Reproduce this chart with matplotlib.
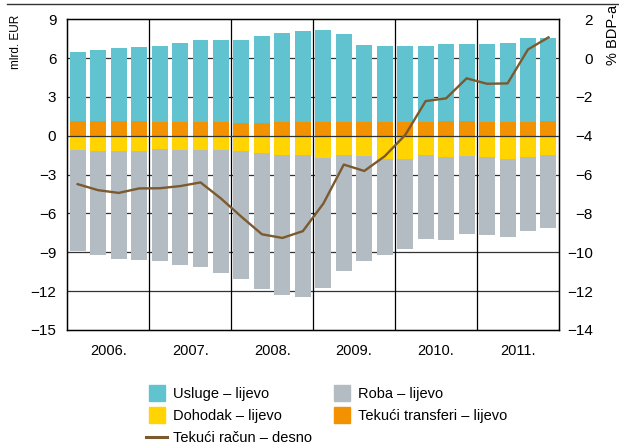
import numpy as np
import matplotlib
matplotlib.use("Agg")
import matplotlib.pyplot as plt
from matplotlib.lines import Line2D

plt.rcParams['font.family'] = ['Liberation Sans Narrow', 'Liberation Sans', 'DejaVu Sans']

# Quarterly data 2006-2011 (mlrd. EUR, left axis)
years = ['2006.', '2007.', '2008.', '2009.', '2010.', '2011.']
usluge = [5.33, 5.49, 5.64, 5.77, 5.88, 6.16, 6.37, 6.39, 6.40, 6.68, 6.88, 7.04,
          7.12, 6.76, 5.95, 5.88, 5.88, 5.88, 5.95, 5.98, 5.98, 6.11, 6.45, 6.39]
transferi = [1.16, 1.16, 1.16, 1.11, 1.08, 1.03, 1.03, 1.03, 1.00, 1.00, 1.06, 1.08,
             1.08, 1.08, 1.03, 1.03, 1.08, 1.08, 1.11, 1.11, 1.08, 1.08, 1.08, 1.16]
dohodak = [-1.11, -1.19, -1.19, -1.19, -1.00, -1.08, -1.08, -1.08, -1.16, -1.34, -1.47, -1.52,
           -1.68, -1.49, -1.55, -1.78, -1.80, -1.49, -1.65, -1.55, -1.62, -1.80, -1.65, -1.52]
roba = [-7.81, -8.04, -8.35, -8.38, -8.70, -8.90, -9.06, -9.49, -9.90, -10.50, -10.83, -10.91,
        -10.05, -8.93, -8.10, -7.45, -6.94, -6.48, -6.37, -6.01, -6.07, -6.02, -5.68, -5.60]
# current account, % BDP-a (right axis)
tekuci_racun = [-6.49, -6.80, -6.94, -6.71, -6.70, -6.59, -6.40, -7.23, -8.17, -9.07, -9.26, -8.91,
                -7.49, -5.48, -5.81, -5.05, -3.96, -2.21, -2.07, -1.04, -1.32, -1.30, 0.45, 1.07]

c_usluge = '#62C3D0'
c_roba = '#B4BCC3'
c_dohodak = '#FFD400'
c_transferi = '#F39200'
c_line = '#7A5A2E'

fig = plt.figure(figsize=(6.19, 4.48), dpi=100)
ax = fig.add_axes([0.109, 0.2634, 0.7936, 0.6935])

x = np.arange(len(usluge))
w = 0.78
ax.bar(x, transferi, w, color=c_transferi, zorder=2)
ax.bar(x, usluge, w, bottom=transferi, color=c_usluge, zorder=2)
ax.bar(x, dohodak, w, color=c_dohodak, zorder=2)
ax.bar(x, roba, w, bottom=dohodak, color=c_roba, zorder=2)

ax.set_xlim(-0.5, len(x) - 0.5)
ax.set_ylim(-15, 9)
ax.set_yticks(np.arange(-15, 10, 3))
for yv in np.arange(-12, 9, 3):
    ax.axhline(yv, color='#333333', lw=0.9, zorder=0 if yv != 0 else 3)
for xv in np.arange(3.5, len(x) - 1, 4):
    ax.axvline(xv, color='black', lw=0.9, zorder=0)

ax.set_xticks(np.arange(1.5, len(x), 4))
ax.set_xticklabels(years)
ax.tick_params(axis='x', length=0, pad=10, labelsize=10.5)
ax.tick_params(axis='y', length=0, pad=8, labelsize=11)
for s in ax.spines.values():
    s.set_linewidth(1.0)

ax2 = ax.twinx()
ax2.plot(x, tekuci_racun, color=c_line, lw=1.7, zorder=4)
ax2.set_ylim(-14, 2)
ax2.set_yticks(np.arange(-14, 3, 2))
ax2.tick_params(axis='y', length=0, pad=24.5, labelsize=11)
for lab in ax2.get_yticklabels():
    lab.set_horizontalalignment('right')

# axis titles
fig.text(16 / 619, 1 - 15 / 448, 'mlrd. EUR', rotation=90, ha='center', va='top', fontsize=8.5)
fig.text(613 / 619, 1 - 5 / 448, '% BDP-a', rotation=90, ha='center', va='top', fontsize=10.5)

# thin rule across the top
fig.add_artist(Line2D([7 / 619, 1], [1 - 4.5 / 448, 1 - 4.5 / 448], color='#333333', lw=1.0))

# legend
sq = dict(marker='s', linestyle='none', markersize=11.5)
handles = [Line2D([], [], color=c_usluge, **sq),
           Line2D([], [], color=c_dohodak, **sq),
           Line2D([], [], color=c_line, lw=2.2),
           Line2D([], [], color=c_roba, **sq),
           Line2D([], [], color=c_transferi, **sq)]
labels = ['Usluge – lijevo', 'Dohodak – lijevo', 'Tekući račun – desno',
          'Roba – lijevo', 'Tekući transferi – lijevo']
fig.legend(handles, labels, ncol=2, loc='upper left', bbox_to_anchor=(146 / 619, 1 - 387 / 448),
           frameon=False, fontsize=10.5, handlelength=1.45, handletextpad=0.4,
           labelspacing=0.56, columnspacing=1.3, borderpad=0, borderaxespad=0)

fig.savefig('out.png', dpi=100)
